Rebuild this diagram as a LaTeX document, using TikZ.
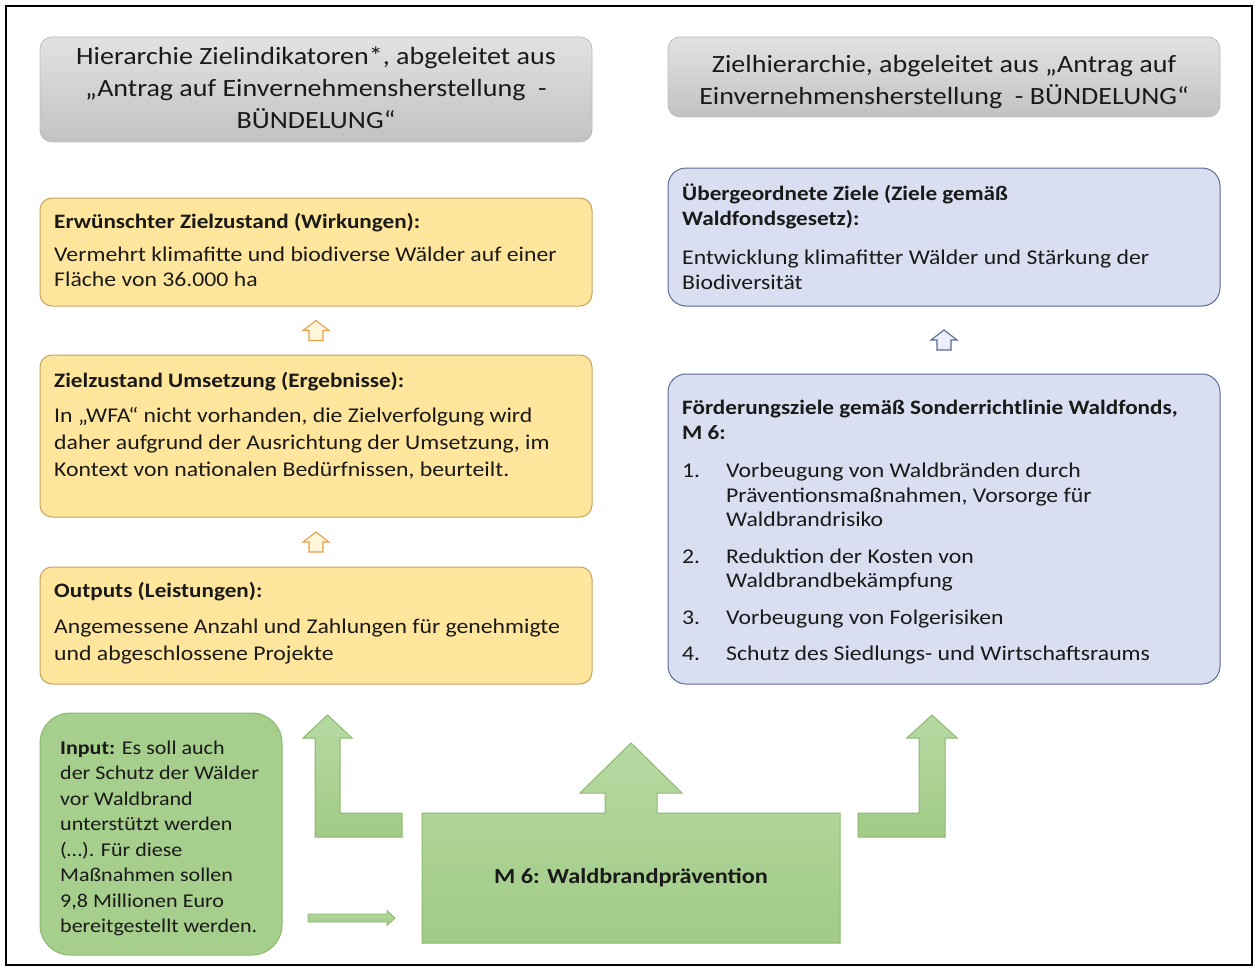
\documentclass[tikz,border=0pt]{standalone}
\usepackage{fontspec}
\setmainfont{Carlito}[FakeStretch=1.13]
\usetikzlibrary{calc,fit}
\definecolor{yfill}{HTML}{FFE69C}
\definecolor{ydraw}{HTML}{C9A35E}
\definecolor{bfill}{HTML}{D9DEF0}
\definecolor{bdraw}{HTML}{5B6B94}
\definecolor{gtop}{HTML}{E2E2E2}
\definecolor{gbot}{HTML}{C2C2C2}
\definecolor{gdraw}{HTML}{BDBDBD}
\definecolor{grtop}{HTML}{B6D9A2}
\definecolor{grbot}{HTML}{A1CB86}
\definecolor{grdraw}{HTML}{8DB870}
\definecolor{txt}{HTML}{1A1A1A}
\definecolor{arrO}{HTML}{E2A04A}
\newcommand\myTline[4]{\node[anchor=base west,inner sep=0pt,#1] (#2) at #3 {#4};}
\newcommand\myCline[4]{\node[anchor=base,inner sep=0pt,#1] (#2) at #3 {#4};}
\newcommand\housearrow[2]{\draw[#1] ($#2+(0,-10)$) -- ++(13,10) -- ++(-6,0) -- ++(0,10) -- ++(-14,0) -- ++(0,-10) -- ++(-6,0) -- cycle;}
\begin{document}
\begin{tikzpicture}[x=1pt,y=-1pt,
  body/.style={font=\fontsize{21}{25}\selectfont, text=txt},
  ttl/.style={font=\fontsize{20.5}{25}\selectfont\bfseries, text=txt},
  head/.style={font=\fontsize{24.8}{30}\selectfont, text=txt},
  small/.style={font=\fontsize{19.5}{23}\selectfont, text=txt},
  graybox/.style={draw=gdraw, line width=0.8pt, rounded corners=12pt, top color=gtop, bottom color=gbot, inner sep=0pt},
  ybox/.style={draw=ydraw, line width=1pt, rounded corners=12pt, fill=yfill, inner sep=0pt},
  bbox/.style={draw=bdraw, line width=1pt, rounded corners=18pt, fill=bfill, inner sep=0pt},
  gbox/.style={draw=grdraw, line width=1pt, top color=grtop, bottom color=grbot},
  yarrow/.style={draw=arrO, line width=1.1pt, fill=yfill!35, line join=miter},
  barrow/.style={draw=bdraw, line width=1.1pt, fill=bfill!50, line join=miter},
]
\useasboundingbox (0,0) rectangle (1258,971);
\fill[white] (0,0) rectangle (1258,971);
\draw[line width=1.6pt] (6,6) rectangle (1252,965);

% headers
\node[graybox, fit={(40,37) (592,142)}] (hl) {};
\myCline{head}{hl1}{(316,65)}{Hierarchie Zielindikatoren*, abgeleitet aus}
\myCline{head}{hl2}{(316,97)}{„Antrag auf Einvernehmensherstellung\ \ -}
\myCline{head}{hl3}{(316,129)}{BÜNDELUNG“}
\node[graybox, fit={(668,37) (1220,117)}] (hr) {};
\myCline{head}{hr1}{(944,73)}{Zielhierarchie, abgeleitet aus „Antrag auf}
\myCline{head}{hr2}{(944,105)}{Einvernehmensherstellung\ \ - BÜNDELUNG“}

% left column
\node[ybox, fit={(40,198) (592,306)}] (y1) {};
\myTline{ttl}{y1t}{(54,228)}{Erwünschter Zielzustand (Wirkungen):}
\myTline{body}{y1a}{(54,261)}{Vermehrt klimafitte und biodiverse Wälder auf einer}
\myTline{body}{y1b}{(54,286)}{Fläche von 36.000 ha}

\node[ybox, fit={(40,355) (592,517)}] (y2) {};
\myTline{ttl}{y2t}{(54,387)}{Zielzustand Umsetzung (Ergebnisse):}
\myTline{body}{y2a}{(54,422)}{In „WFA“ nicht vorhanden, die Zielverfolgung wird}
\myTline{body}{y2b}{(54,449)}{daher aufgrund der Ausrichtung der Umsetzung, im}
\myTline{body}{y2c}{(54,476)}{Kontext von nationalen Bedürfnissen, beurteilt.}

\node[ybox, fit={(40,567) (592,684)}] (y3) {};
\myTline{ttl}{y3t}{(54,597)}{Outputs (Leistungen):}
\myTline{body}{y3a}{(54,633)}{Angemessene Anzahl und Zahlungen für genehmigte}
\myTline{body}{y3b}{(54,660)}{und abgeschlossene Projekte}

\housearrow{yarrow}{($(y1.south)!0.5!(y2.north)$)}
\housearrow{yarrow}{($(y2.south)!0.5!(y3.north)$)}

% right column
\node[bbox, fit={(668,168) (1220,306)}] (b1) {};
\myTline{ttl}{b1t}{(682,200)}{Übergeordnete Ziele (Ziele gemäß}
\myTline{ttl}{b1u}{(682,225)}{Waldfondsgesetz):}
\myTline{body}{b1a}{(682,264)}{Entwicklung klimafitter Wälder und Stärkung der}
\myTline{body}{b1b}{(682,289)}{Biodiversität}

\node[bbox, fit={(668,374) (1220,684)}] (b2) {};
\myTline{ttl}{b2t}{(682,414)}{Förderungsziele gemäß Sonderrichtlinie Waldfonds,}
\myTline{ttl}{b2u}{(682,439)}{M 6:}
\myTline{body}{n1}{(682,477)}{1.}
\myTline{body}{i1a}{(726,477)}{Vorbeugung von Waldbränden durch}
\myTline{body}{i1b}{(726,502)}{Präventionsmaßnahmen, Vorsorge für}
\myTline{body}{i1c}{(726,526)}{Waldbrandrisiko}
\myTline{body}{n2}{(682,563)}{2.}
\myTline{body}{i2a}{(726,563)}{Reduktion der Kosten von}
\myTline{body}{i2b}{(726,587)}{Waldbrandbekämpfung}
\myTline{body}{n3}{(682,624)}{3.}
\myTline{body}{i3a}{(726,624)}{Vorbeugung von Folgerisiken}
\myTline{body}{n4}{(682,660)}{4.}
\myTline{body}{i4a}{(726,660)}{Schutz des Siedlungs- und Wirtschaftsraums}

\housearrow{barrow}{($(b1.south)!0.5!(b2.north)$)}

% input box
\node[draw=grdraw, line width=1pt, rounded corners=30pt, fill=grbot!95!white, inner sep=0pt, fit={(40,713) (282,955)}] (inp) {};
\myTline{small}{in1}{(60,754)}{\textbf{Input:} Es soll auch}
\myTline{small}{in2}{(60,779.5)}{der Schutz der Wälder}
\myTline{small}{in3}{(60,805)}{vor Waldbrand}
\myTline{small}{in4}{(60,830.5)}{unterstützt werden}
\myTline{small}{in5}{(60,856)}{(…). Für diese}
\myTline{small}{in6}{(60,881.5)}{Maßnahmen sollen}
\myTline{small}{in7}{(60,907)}{9,8 Millionen Euro}
\myTline{small}{in8}{(60,932.5)}{bereitgestellt werden.}

% M6 box with arrow
\path[gbox] (422,943) -- (840,943) -- (840,813) -- (657,813) -- (657,793) -- (682,793) -- (631,743) -- (580,793) -- (605,793) -- (605,813) -- (422,813) -- cycle;
\node[font=\fontsize{21.5}{25}\selectfont\bfseries, text=txt, inner sep=0pt] (m6) at (631,878) {M 6: Waldbrandprävention};

% L arrows
\path[gbox] (402,837) -- (315,837) -- (315,738) -- (303,738) -- (327.5,715) -- (352,738) -- (340,738) -- (340,813) -- (402,813) -- cycle;
\path[gbox] (858,813) -- (858,837) -- (945,837) -- (945,738) -- (957,738) -- (932,715) -- (907,738) -- (919,738) -- (919,813) -- cycle;

% small input arrow
\coordinate (sa) at (308,918);
\coordinate (sb) at (395,918);
\path[gbox, line width=0.8pt] ($(sa)+(0,-4)$) -- ($(sb)+(-8,-4)$) -- ($(sb)+(-8,-7.5)$) -- (sb) -- ($(sb)+(-8,7.5)$) -- ($(sb)+(-8,4)$) -- ($(sa)+(0,4)$) -- cycle;
\end{tikzpicture}
\end{document}
